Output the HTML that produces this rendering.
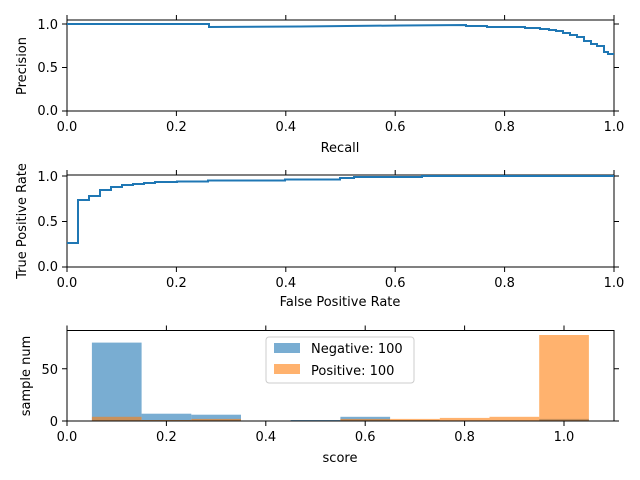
<!DOCTYPE html>
<html><head><meta charset="utf-8"><style>body{margin:0;background:#fff}svg{display:block}text{font-family:"DejaVu Sans","Liberation Sans",sans-serif;font-size:13px;fill:#000}</style></head>
<body>
<svg width="640" height="480" xmlns="http://www.w3.org/2000/svg">
<g stroke="#000" stroke-width="1">
<rect x="67" y="20" width="547" height="91" fill="none"/>
<path d="M67,111v5M176.4,111v5M285.8,111v5M395.2,111v5M504.6,111v5M614,111v5M67,20v-5M176.4,20v-5M285.8,20v-5M395.2,20v-5M504.6,20v-5M614,20v-5M67,111h-5M67,67.5h-5M67,24h-5M614,111h5M614,67.5h5M614,24h5"/>
<rect x="67" y="175" width="547" height="92" fill="none"/>
<path d="M67,267v5M176.4,267v5M285.8,267v5M395.2,267v5M504.6,267v5M614,267v5M67,175v-5M176.4,175v-5M285.8,175v-5M395.2,175v-5M504.6,175v-5M614,175v-5M67,267h-5M67,221.5h-5M67,176h-5M614,267h5M614,221.5h5M614,176h5"/>
</g>
<g>
<g fill="#1f77b4" fill-opacity="0.6">
<rect x="91.9" y="342.6" width="49.7" height="78.4"/>
<rect x="141.6" y="413.7" width="49.7" height="7.3"/>
<rect x="191.3" y="414.7" width="49.7" height="6.3"/>
<rect x="290.7" y="420" width="49.7" height="1"/>
<rect x="340.4" y="416.8" width="49.7" height="4.2"/>
<rect x="390.1" y="420" width="49.7" height="1"/>
<rect x="539.2" y="418.9" width="49.7" height="2.1"/>
</g>
<g fill="#ff7f0e" fill-opacity="0.6">
<rect x="91.9" y="416.8" width="49.7" height="4.2"/>
<rect x="141.6" y="420" width="49.7" height="1"/>
<rect x="191.3" y="418.9" width="49.7" height="2.1"/>
<rect x="340.4" y="418.9" width="49.7" height="2.1"/>
<rect x="390.1" y="418.9" width="49.7" height="2.1"/>
<rect x="439.8" y="417.9" width="49.7" height="3.1"/>
<rect x="489.5" y="416.8" width="49.7" height="4.2"/>
<rect x="539.2" y="335" width="49.7" height="86"/>
</g>
</g>
<g stroke="#000" stroke-width="1">
<rect x="67" y="330.5" width="547" height="90.5" fill="none"/>
<path d="M67,421v5M166.4,421v5M265.8,421v5M365.2,421v5M464.6,421v5M564,421v5M67,330.5v-5M166.4,330.5v-5M265.8,330.5v-5M365.2,330.5v-5M464.6,330.5v-5M564,330.5v-5M67,421h-5M67,368.7h-5M614,421h5M614,368.7h5"/>
</g>
<polyline fill="none" stroke="#1f77b4" stroke-width="2" points="67,24 209,24 209,27 300,26.5 400,25.5 466,25 466,26 487,26 487,27 525,27 525,28 540,28 540,29 549,29 549,30 556,30 556,31 563,31 563,33 570,33 570,35 577,35 577,37 584,37 584,41 591,41 591,44 597,44 597,46 604,46 604,52 608,52 608,54 614,54"/>
<polyline fill="none" stroke="#1f77b4" stroke-width="2" points="67,243 78,243 78,200 89,200 89,196 100,196 100,190 111,190 111,187 122,187 122,185 133,185 133,184 144,184 144,183 155,183 155,182 177,182 177,181.5 208,181.5 208,180.5 285,180.5 285,179.5 340,179.5 340,178 354,178 354,177 422,177 422,176 614,176"/>
<rect x="266" y="337" width="148" height="46" rx="3" fill="#fff" fill-opacity="0.8" stroke="#ccc"/>
<rect x="274" y="343" width="26" height="10" fill="#1f77b4" fill-opacity="0.6"/>
<rect x="274" y="364" width="26" height="10" fill="#ff7f0e" fill-opacity="0.6"/>
<text x="311" y="353">Negative: 100</text>
<text x="311" y="375">Positive: 100</text>
<g text-anchor="end">
<text x="58" y="115">0.0</text><text x="58" y="72">0.5</text><text x="58" y="29">1.0</text>
<text x="58" y="271">0.0</text><text x="58" y="226">0.5</text><text x="58" y="181">1.0</text>
<text x="58" y="426">0</text><text x="58" y="374">50</text>
</g>
<g text-anchor="middle">
<text x="67" y="131">0.0</text><text x="176.4" y="131">0.2</text><text x="285.8" y="131">0.4</text><text x="395.2" y="131">0.6</text><text x="504.6" y="131">0.8</text><text x="614" y="131">1.0</text>
<text x="340" y="152">Recall</text>
<text x="67" y="287">0.0</text><text x="176.4" y="287">0.2</text><text x="285.8" y="287">0.4</text><text x="395.2" y="287">0.6</text><text x="504.6" y="287">0.8</text><text x="614" y="287">1.0</text>
<text x="340" y="306">False Positive Rate</text>
<text x="67" y="441">0.0</text><text x="166.4" y="441">0.2</text><text x="265.8" y="441">0.4</text><text x="365.2" y="441">0.6</text><text x="464.6" y="441">0.8</text><text x="564" y="441">1.0</text>
<text x="340" y="462">score</text>
<text transform="translate(26,66) rotate(-90)">Precision</text>
<text transform="translate(26,221) rotate(-90)">True Positive Rate</text>
<text transform="translate(30,376) rotate(-90)">sample num</text>
</g>
</svg>
</body></html>
